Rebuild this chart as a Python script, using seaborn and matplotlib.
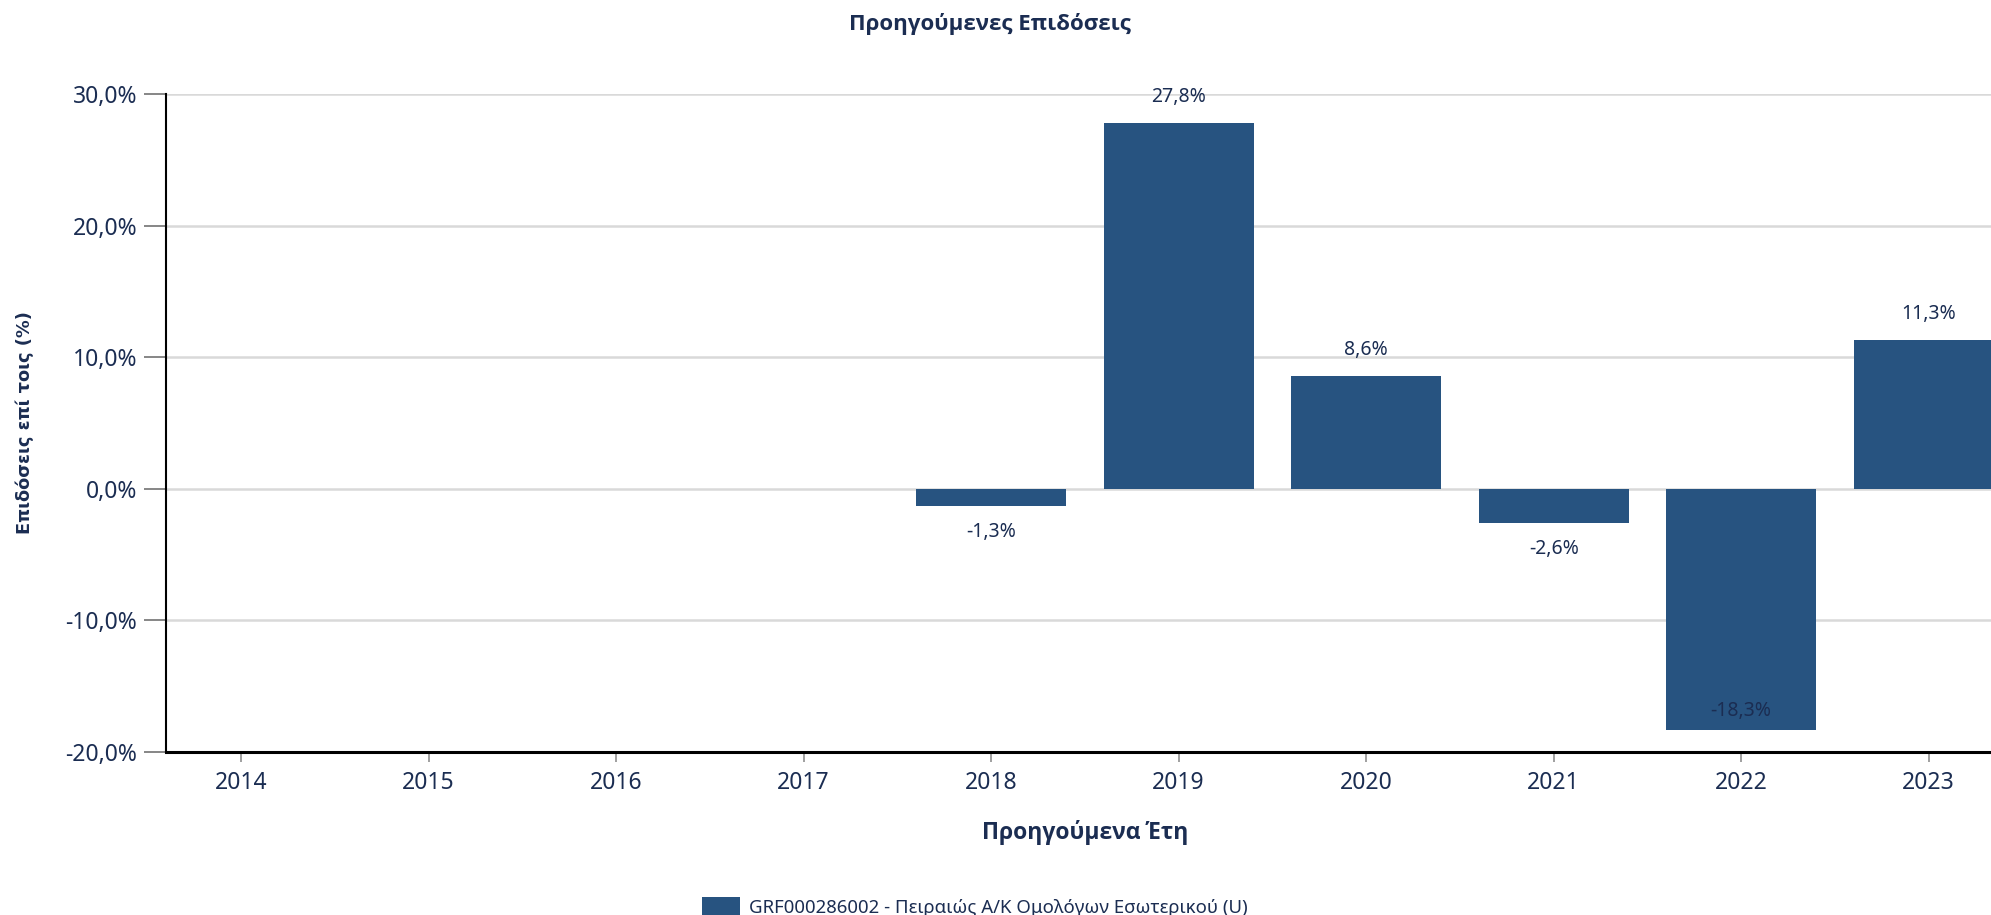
import numpy as np
import pandas as pd
import seaborn as sns
import matplotlib.pyplot as plt
from matplotlib.patches import Patch

# Chart data
years = ["2014", "2015", "2016", "2017", "2018", "2019", "2020", "2021", "2022", "2023"]
returns = [np.nan, np.nan, np.nan, np.nan, -1.3, 27.8, 8.6, -2.6, -18.3, 11.3]
series_name = "GRF000286002 - Πειραιώς Α/Κ Ομολόγων Εσωτερικού (U)"
y_ticks = [-20, -10, 0, 10, 20, 30]

title = "Προηγούμενες Επιδόσεις"
x_title = "Προηγούμενα Έτη"
y_title = "Επιδόσεις επί τοις (%)"

bar_color = "#275380"
text_color = "#1b2d52"

sns.set_style("white")
plt.rcParams["font.family"] = ["Noto Sans", "DejaVu Sans"]
bold_family = ["Open Sans", "DejaVu Sans"]

df = pd.DataFrame({"year": years, "value": returns})

fig = plt.figure(figsize=(19.91, 9.15), dpi=100)
ax = fig.add_axes([0.0834, 0.1781, 0.923, 0.7192])

sns.barplot(data=df.dropna(), x="year", y="value", order=years, color=bar_color,
            width=0.8, saturation=1, linewidth=0, ax=ax, zorder=3)

ax.set_xlim(-0.4, len(years) - 0.6)
ax.set_ylim(-20, 30)
ax.set_yticks(y_ticks)
ax.set_yticklabels([f"{t:.1f}".replace(".", ",") + "%" for t in y_ticks])

# grid and spines
ax.grid(axis="y", color="#d9d9d9", linewidth=1.8, zorder=0)
ax.set_axisbelow(True)
for side in ["top", "right"]:
    ax.spines[side].set_visible(False)
ax.spines["left"].set_color("black")
ax.spines["left"].set_linewidth(1.5)
ax.spines["bottom"].set_color("black")
ax.spines["bottom"].set_linewidth(2.2)
ax.spines["left"].set_zorder(5)
ax.spines["bottom"].set_zorder(5)

ax.tick_params(axis="y", length=15.8, width=1.1, color="#666666", pad=5,
               labelsize=16.5, labelcolor=text_color, left=True)
ax.tick_params(axis="x", length=7.2, width=1.4, color="#a0a0a0", pad=6.5,
               labelsize=16.5, labelcolor=text_color, bottom=True)

# value labels
offset_pt = 18.7
for i, v in enumerate(returns):
    if np.isnan(v):
        continue
    label = f"{v:.1f}".replace(".", ",") + "%"
    if v >= 0:
        dy = offset_pt
    else:
        dy = -offset_pt
        # would fall under the axis -> put it inside the bar
        _, py = ax.transData.transform((i, v))
        _, pbot = ax.transData.transform((i, ax.get_ylim()[0]))
        if py - offset_pt * fig.dpi / 72 - 8 < pbot:
            dy = 13.7
    ax.annotate(label, (i, v), xytext=(0, dy), textcoords="offset points",
                ha="center", va="center", fontsize=14, color=text_color, zorder=6)

ax.set_xlabel(x_title, fontsize=16.5, fontweight="bold", color=text_color, va="center",
              family=bold_family)
ax.xaxis.set_label_coords(0.5, -0.1216)
ax.set_ylabel(y_title, fontsize=12.8, fontweight="bold", color=text_color, va="center",
              family=["DejaVu Sans"])
ax.yaxis.set_label_coords(-0.0767, 0.5)

fig.text(0.4973, 0.974, title, ha="center", va="center", fontsize=16,
         fontweight="bold", color=text_color, family=bold_family)

handle = Patch(facecolor=bar_color, edgecolor="none")
fig.legend([handle], [series_name], loc="center left", bbox_to_anchor=(0.3526, 0.0087),
           frameon=False, fontsize=13.4, handlelength=2.05, handleheight=1.3,
           handletextpad=0.5, borderpad=0, borderaxespad=0, labelcolor=text_color)

fig.savefig("out.png", dpi=100)
